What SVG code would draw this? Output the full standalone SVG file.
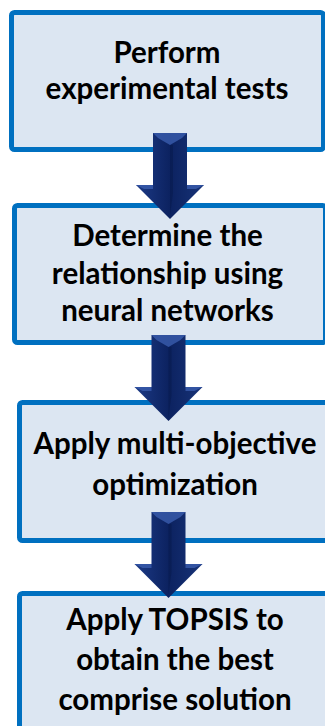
<svg xmlns="http://www.w3.org/2000/svg" width="325" height="726" viewBox="0 0 325 726">
<style>
.box{fill:#DCE6F2;stroke:#0070C0;stroke-width:5}
.t{font-family:Lato,"Liberation Sans",sans-serif;font-weight:bold;font-size:29.5px;fill:#000;text-anchor:middle}
.ab{fill:url(#ag)}
.hl{fill:#3A5DAE;opacity:0.8}
.dk{fill:#081A4E;opacity:0.6}
</style>
<defs>
<linearGradient id="ag" x1="0" y1="0" x2="1" y2="0">
<stop offset="0" stop-color="#1C3A86"/>
<stop offset="0.5" stop-color="#0C2260"/>
<stop offset="1" stop-color="#173378"/>
</linearGradient>
<g id="arrow">
<polygon class="ab" points="-17,0 17,0 17,52 34,52 0,86 -34,52 -17,52"/>
<polygon class="hl" points="-17,0 17,0 12,5 0,12 -12,5"/>
<polygon class="hl" points="-34,52 -17,52 -17,56 -26,56"/>
<polygon class="hl" points="34,52 17,52 17,56 26,56"/>
<polygon class="dk" points="0,12 3,12 3,60 0,82"/>
</g>
</defs>
<g id="node1">
<rect class="box" x="11.5" y="12.5" width="312" height="137" rx="3"/>
<text class="t" x="167" y="63">Perform</text>
<text class="t" x="167" y="99">experimental tests</text>
</g>
<g id="node2">
<rect class="box" x="14.5" y="205.5" width="311" height="137" rx="3"/>
<text class="t" x="167.5" y="246">Determine the</text>
<text class="t" x="167.5" y="284">relationship using</text>
<text class="t" x="167.5" y="321">neural networks</text>
</g>
<g id="node3">
<rect class="box" x="19.5" y="402.5" width="313" height="138" rx="3"/>
<text class="t" x="175" y="454">Apply multi-objective</text>
<text class="t" x="175" y="495">optimization</text>
</g>
<g id="node4">
<rect class="box" x="19.5" y="593.5" width="313" height="160" rx="3"/>
<text class="t" x="175" y="630">Apply TOPSIS to</text>
<text class="t" x="175" y="670">obtain the best</text>
<text class="t" x="175" y="710">comprise solution</text>
</g>
<g id="connectors">
<use href="#arrow" x="170" y="133"/>
<use href="#arrow" x="168.5" y="335"/>
<use href="#arrow" x="168.5" y="512"/>
</g>
</svg>
